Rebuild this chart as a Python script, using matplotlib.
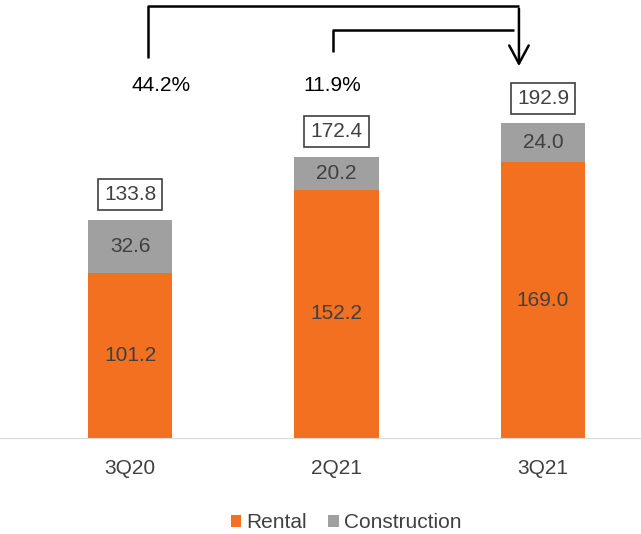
import matplotlib
matplotlib.use("Agg")
import matplotlib.pyplot as plt
import numpy as np

# data
periods = ["3Q20", "2Q21", "3Q21"]
rental = [101.2, 152.2, 169.0]
construction = [32.6, 20.2, 24.0]
totals = [133.8, 172.4, 192.9]
growth = ["44.2%", "11.9%"]

orange = "#F37021"
grey = "#A0A0A0"
txt = "#404040"
fs = 15

plt.rcParams["font.family"] = ["Liberation Sans", "DejaVu Sans"]

fig = plt.figure(figsize=(6.41, 5.34), dpi=100)
ax = fig.add_axes([0, 0.18, 1, 0.82])

x = np.arange(len(periods))
w = 0.41
ax.bar(x, rental, w, color=orange, label="Rental")
ax.bar(x, construction, w, bottom=rental, color=grey, label="Construction")

for i in x:
    ax.text(i, rental[i] / 2, f"{rental[i]:.1f}", ha="center", va="center",
            fontsize=fs, color=txt)
    ax.text(i, rental[i] + construction[i] / 2, f"{construction[i]:.1f}",
            ha="center", va="center", fontsize=fs, color=txt)
    ax.text(i, totals[i] + 15.5, f"{totals[i]:.1f}", ha="center", va="center",
            fontsize=fs, color=txt,
            bbox=dict(boxstyle="square,pad=0.3", fc="white", ec="#404040", lw=1.2))

ax.set_xlim(-0.63, 2.475)
ax.set_ylim(0, 268.7)
ax.set_xticks(x)
ax.set_xticklabels(periods, fontsize=fs, color=txt)
ax.tick_params(axis="x", length=0, pad=15)
ax.set_yticks([])
for s in ["top", "right", "left"]:
    ax.spines[s].set_visible(False)
ax.spines["bottom"].set_color("#D9D9D9")


def px(xp, yp):
    # pixel position -> data coordinates
    return (xp - 130) / 206.5, (438 - yp) / 1.63


# growth brackets
kw = dict(color="black", lw=1.8, clip_on=False, solid_capstyle="butt")
pts = [px(148, 58), px(148, 6), px(519, 6)]
ax.plot([p[0] for p in pts], [p[1] for p in pts], **kw)
pts = [px(333, 52), px(333, 30), px(514, 30)]
ax.plot([p[0] for p in pts], [p[1] for p in pts], **kw)
ax.annotate("", xy=px(519, 69), xytext=px(519, 6),
            arrowprops=dict(arrowstyle="->,head_length=1.3,head_width=0.7",
                            color="black", lw=1.8), annotation_clip=False)

ax.text(*px(161, 86), growth[0], ha="center", va="center", fontsize=fs, color="black")
ax.text(*px(332, 86), growth[1], ha="center", va="center", fontsize=fs, color="black")

fig.legend(loc="lower center", bbox_to_anchor=(0.54, -0.032), ncol=2, frameon=False,
           fontsize=fs, labelcolor=txt, handlelength=0.5, handleheight=0.5,
           handletextpad=0.25, columnspacing=1.0)

fig.savefig("out.png", dpi=100)
